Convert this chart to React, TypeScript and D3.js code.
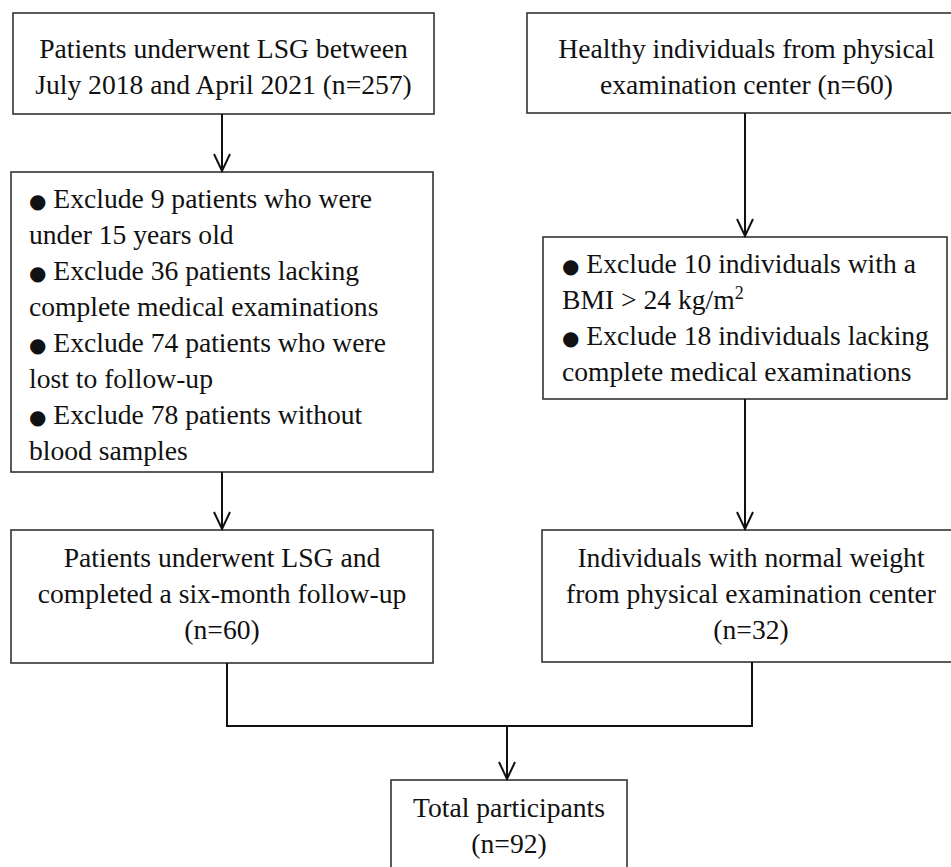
// App.tsx
import React, { useRef, useEffect } from "react";
import * as d3 from "d3";

// Box texts, one array per box (a line may hold a bullet and a superscript)
const patientsAll = ["Patients underwent LSG between", "July 2018 and April 2021 (n=257)"];
const healthyAll = ["Healthy individuals from physical", "examination center (n=60)"];
const patientsExcluded = [
  "● Exclude 9 patients who were",
  "under 15 years old",
  "● Exclude 36 patients lacking",
  "complete medical examinations",
  "● Exclude 74 patients who were",
  "lost to follow-up",
  "● Exclude 78 patients without",
  "blood samples",
];
const healthyExcluded = [
  "● Exclude 10 individuals with a",
  "BMI > 24 kg/m^2",
  "● Exclude 18 individuals lacking",
  "complete medical examinations",
];
const patientsFinal = ["Patients underwent LSG and", "completed a six-month follow-up", "(n=60)"];
const healthyFinal = ["Individuals with normal weight", "from physical examination center", "(n=32)"];
const totalFinal = ["Total participants", "(n=92)"];

const App = () => {
  const svgRef = useRef<SVGSVGElement>(null);

  useEffect(() => {
    const width = 951;
    const height = 867;
    const fontSize = 27.6;
    const lineGap = 36;

    const svg = d3.select(svgRef.current).attr("width", width).attr("height", height);
    svg.selectAll("*").remove();

    // layout of the boxes
    const boxes = [
      { id: "pa", lines: patientsAll, x0: 13, x1: 434, y0: 13, y1: 114, first: 58, align: "middle" },
      { id: "ha", lines: healthyAll, x0: 527, x1: 966, y0: 13, y1: 113, first: 58, align: "middle" },
      { id: "pe", lines: patientsExcluded, x0: 11, x1: 433, y0: 172, y1: 472, first: 208, align: "start", tx: 29 },
      { id: "he", lines: healthyExcluded, x0: 543, x1: 947, y0: 237, y1: 399, first: 273, align: "start", tx: 562 },
      { id: "pf", lines: patientsFinal, x0: 11, x1: 433, y0: 530, y1: 663, first: 567, align: "middle" },
      { id: "hf", lines: healthyFinal, x0: 542, x1: 960, y0: 530, y1: 662, first: 567, align: "middle" },
      { id: "tf", lines: totalFinal, x0: 391, x1: 627, y0: 780, y1: 900, first: 817, align: "middle" },
    ];

    const g = svg.append("g");

    const boxG = g
      .selectAll("g.box")
      .data(boxes)
      .enter()
      .append("g")
      .attr("class", "box");

    boxG
      .append("rect")
      .attr("x", (d) => d.x0)
      .attr("y", (d) => d.y0)
      .attr("width", (d) => d.x1 - d.x0)
      .attr("height", (d) => d.y1 - d.y0)
      .attr("fill", "#fff")
      .attr("stroke", "#333")
      .attr("stroke-width", 1.6);

    boxG.each(function (d) {
      const tx = d.align === "middle" ? (d.x0 + d.x1) / 2 : d.tx;
      const text = d3
        .select(this)
        .append("text")
        .attr("font-family", "'Liberation Serif', 'Times New Roman', serif")
        .attr("font-size", fontSize)
        .attr("fill", "#111")
        .attr("text-anchor", d.align);
      d.lines.forEach((line, i) => {
        const y = d.first + i * lineGap;
        let rest = line;
        const t = text.append("tspan").attr("x", tx).attr("y", y);
        if (rest.startsWith("● ")) {
          t.append("tspan").attr("font-size", 20).attr("font-family", "'DejaVu Sans', sans-serif").text("●");
          rest = rest.slice(1);
        }
        if (rest.includes("^")) {
          const [base, sup] = rest.split("^");
          t.append("tspan").text(base);
          t.append("tspan").attr("font-size", 18).attr("dy", -10).text(sup);
        } else {
          t.append("tspan").text(rest);
        }
      });
    });

    // connectors
    const line = d3.line<[number, number]>();
    const arrows: [number, number, number][] = [
      [222, 114, 172],
      [745, 113, 237],
      [222, 472, 530],
      [745, 399, 530],
      [507, 726, 780],
    ];
    const plain: [number, number][][] = [
      [
        [227, 663],
        [227, 726],
        [752, 726],
        [752, 662],
      ],
    ];

    g.selectAll("path.plain")
      .data(plain)
      .enter()
      .append("path")
      .attr("class", "plain")
      .attr("d", (d) => line(d))
      .attr("fill", "none")
      .attr("stroke", "#111")
      .attr("stroke-width", 2);

    const arrowG = g.selectAll("g.arrow").data(arrows).enter().append("g").attr("class", "arrow");
    arrowG
      .append("path")
      .attr("d", ([x, y0, y1]) => line([[x, y0], [x, y1 - 1]]))
      .attr("fill", "none")
      .attr("stroke", "#111")
      .attr("stroke-width", 2);
    arrowG
      .append("path")
      .attr("d", ([x, , y1]) => line([[x - 8, y1 - 18], [x, y1 - 1], [x + 8, y1 - 18]]))
      .attr("fill", "none")
      .attr("stroke", "#111")
      .attr("stroke-width", 2);
  }, []);

  return (
    <svg
      ref={svgRef}
      style={{ position: "absolute", left: 0, top: 0, background: "#fff" }}
    ></svg>
  );
};

export default App;
